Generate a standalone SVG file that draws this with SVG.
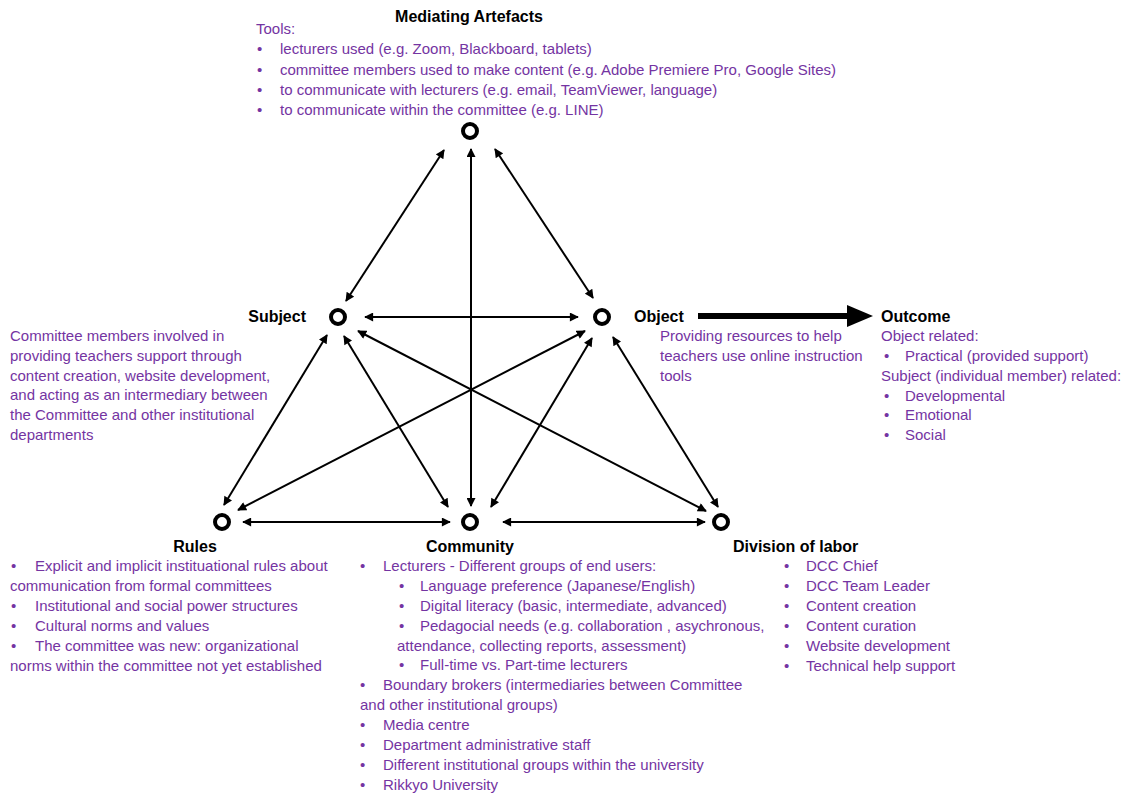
<svg xmlns="http://www.w3.org/2000/svg" width="1137" height="796" viewBox="0 0 1137 796">
<defs>
<marker id="ah" viewBox="0 0 10 10" refX="9" refY="5" markerWidth="10" markerHeight="9" markerUnits="userSpaceOnUse" orient="auto-start-reverse">
<path d="M0,0 L10,5 L0,10 z" fill="#000"/>
</marker>
<style>
.lbl{font-family:"Liberation Sans",Arial,sans-serif;font-size:16px;font-weight:bold;fill:#000}
.t{font-family:"Liberation Sans",Arial,sans-serif;font-size:15px;fill:#7434A2}
.node{fill:none;stroke:#000;stroke-width:4}
.c{stroke:#000;stroke-width:2;fill:none;marker-start:url(#ah);marker-end:url(#ah)}
</style>
</defs>
<rect width="1137" height="796" fill="#fff"/>

<g id="connectors">
<line class="c" x1="444" y1="150" x2="346" y2="301"/>
<line class="c" x1="471" y1="149" x2="471" y2="506"/>
<line class="c" x1="495" y1="149" x2="593" y2="298"/>
<line class="c" x1="365" y1="317" x2="578" y2="317"/>
<line class="c" x1="327" y1="335" x2="224" y2="505"/>
<line class="c" x1="344" y1="336" x2="448" y2="507"/>
<line class="c" x1="358" y1="331" x2="706" y2="511"/>
<line class="c" x1="585" y1="331" x2="238" y2="510"/>
<line class="c" x1="592" y1="338" x2="491" y2="507"/>
<line class="c" x1="613" y1="337" x2="718" y2="507"/>
<line class="c" x1="243" y1="522" x2="450" y2="522"/>
<line class="c" x1="503" y1="522" x2="705" y2="522"/>
<line x1="698" y1="316" x2="850" y2="316" stroke="#000" stroke-width="6"/>
<path d="M847,305 L873,316 L847,327 z" fill="#000"/>
</g>

<g id="mediating">
<circle class="node" cx="470" cy="131" r="7"/>
<text class="lbl" x="469" y="22" text-anchor="middle">Mediating Artefacts</text>
<text class="t" x="256" y="34">Tools:</text>
<text class="t" x="257" y="54">•</text><text class="t" x="280" y="54">lecturers used (e.g. Zoom, Blackboard, tablets)</text>
<text class="t" x="257" y="75">•</text><text class="t" x="280" y="75">committee members used to make content (e.g. Adobe Premiere Pro, Google Sites)</text>
<text class="t" x="257" y="95">•</text><text class="t" x="280" y="95">to communicate with lecturers (e.g. email, TeamViewer, language)</text>
<text class="t" x="257" y="115">•</text><text class="t" x="280" y="115">to communicate within the committee (e.g. LINE)</text>
</g>

<g id="subject">
<circle class="node" cx="338" cy="317" r="7"/>
<text class="lbl" x="306" y="322" text-anchor="end">Subject</text>
<text class="t" x="10" y="341">Committee members involved in</text>
<text class="t" x="10" y="361">providing teachers support  through</text>
<text class="t" x="10" y="381">content creation, website development,</text>
<text class="t" x="10" y="400">and acting as an intermediary between</text>
<text class="t" x="10" y="420">the Committee and other institutional</text>
<text class="t" x="10" y="440">departments</text>
</g>

<g id="object">
<circle class="node" cx="602" cy="317" r="7"/>
<text class="lbl" x="634" y="322">Object</text>
<text class="t" x="660" y="341">Providing resources to help</text>
<text class="t" x="660" y="361">teachers use online instruction</text>
<text class="t" x="660" y="381">tools</text>
</g>

<g id="outcome">
<text class="lbl" x="881" y="322">Outcome</text>
<text class="t" x="881" y="341">Object related:</text>
<text class="t" x="884" y="361">•</text><text class="t" x="905" y="361">Practical (provided support)</text>
<text class="t" x="881" y="381">Subject (individual member) related:</text>
<text class="t" x="884" y="401">•</text><text class="t" x="905" y="401">Developmental</text>
<text class="t" x="884" y="420">•</text><text class="t" x="905" y="420">Emotional</text>
<text class="t" x="884" y="440">•</text><text class="t" x="905" y="440">Social</text>
</g>

<g id="rules">
<circle class="node" cx="222" cy="522" r="7"/>
<text class="lbl" x="195" y="552" text-anchor="middle">Rules</text>
<text class="t" x="11" y="571">•</text><text class="t" x="35" y="571">Explicit and implicit instituational rules about</text>
<text class="t" x="10" y="591">communication from formal committees</text>
<text class="t" x="11" y="611">•</text><text class="t" x="35" y="611">Institutional and social power structures</text>
<text class="t" x="11" y="631">•</text><text class="t" x="35" y="631">Cultural norms and values</text>
<text class="t" x="11" y="651">•</text><text class="t" x="35" y="651">The committee was new: organizational</text>
<text class="t" x="10" y="671">norms within the committee not yet established</text>
</g>

<g id="community">
<circle class="node" cx="470" cy="522" r="7"/>
<text class="lbl" x="470" y="552" text-anchor="middle">Community</text>
<text class="t" x="360" y="571">•</text><text class="t" x="383" y="571">Lecturers  - Different groups of end users:</text>
<text class="t" x="399" y="591">•</text><text class="t" x="420" y="591">Language preference (Japanese/English)</text>
<text class="t" x="399" y="611">•</text><text class="t" x="420" y="611">Digital literacy (basic, intermediate, advanced)</text>
<text class="t" x="399" y="631">•</text><text class="t" x="420" y="631">Pedagocial needs (e.g. collaboration , asychronous,</text>
<text class="t" x="397" y="651">attendance, collecting reports, assessment)</text>
<text class="t" x="399" y="670">•</text><text class="t" x="420" y="670">Full-time vs. Part-time lecturers</text>
<text class="t" x="360" y="690">•</text><text class="t" x="383" y="690">Boundary brokers (intermediaries between Committee</text>
<text class="t" x="360" y="710">and other institutional groups)</text>
<text class="t" x="360" y="730">•</text><text class="t" x="383" y="730">Media centre</text>
<text class="t" x="360" y="750">•</text><text class="t" x="383" y="750">Department administrative staff</text>
<text class="t" x="360" y="770">•</text><text class="t" x="383" y="770">Different institutional groups within the university</text>
<text class="t" x="360" y="790">•</text><text class="t" x="383" y="790">Rikkyo University</text>
</g>

<g id="division">
<circle class="node" cx="721" cy="522" r="7"/>
<text class="lbl" x="733" y="552">Division of labor</text>
<text class="t" x="784" y="571">•</text><text class="t" x="806" y="571">DCC Chief</text>
<text class="t" x="784" y="591">•</text><text class="t" x="806" y="591">DCC Team Leader</text>
<text class="t" x="784" y="611">•</text><text class="t" x="806" y="611">Content creation</text>
<text class="t" x="784" y="631">•</text><text class="t" x="806" y="631">Content curation</text>
<text class="t" x="784" y="651">•</text><text class="t" x="806" y="651">Website development</text>
<text class="t" x="784" y="671">•</text><text class="t" x="806" y="671">Technical help support</text>
</g>
</svg>
